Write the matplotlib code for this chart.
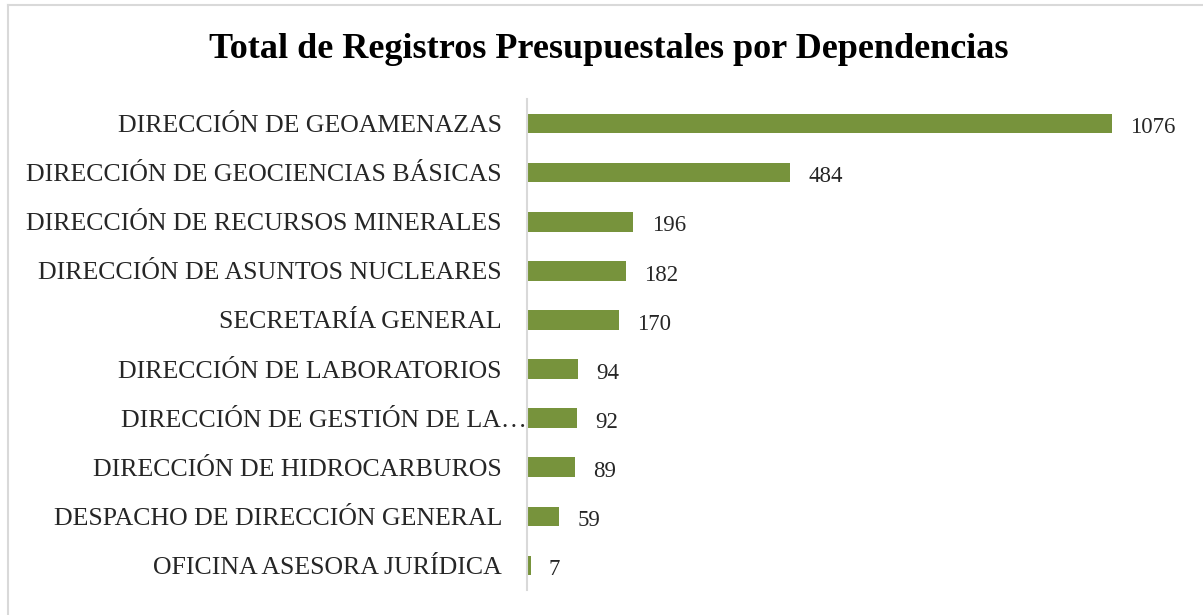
import matplotlib.pyplot as plt
from matplotlib.lines import Line2D
from matplotlib.transforms import ScaledTranslation

dependencias = [
    "DIRECCIÓN DE GEOAMENAZAS",
    "DIRECCIÓN DE GEOCIENCIAS BÁSICAS",
    "DIRECCIÓN DE RECURSOS MINERALES",
    "DIRECCIÓN DE ASUNTOS NUCLEARES",
    "SECRETARÍA GENERAL",
    "DIRECCIÓN DE LABORATORIOS",
    "DIRECCIÓN DE GESTIÓN DE LA…",
    "DIRECCIÓN DE HIDROCARBUROS",
    "DESPACHO DE DIRECCIÓN GENERAL",
    "OFICINA ASESORA JURÍDICA",
]
registros = [1076, 484, 196, 182, 170, 94, 92, 89, 59, 7]

plt.rcParams['font.family'] = ['Liberation Serif', 'DejaVu Serif']
color_barra = '#77933C'
color_texto = '#262626'

fig = plt.figure(figsize=(12.03, 6.15), dpi=100)
ax = fig.add_axes([527 / 1203, 1 - 590 / 615, 652 / 1203, 491 / 615])

pos = list(range(len(dependencias)))
ax.barh(pos, registros, height=0.4, color=color_barra)
ax.set_ylim(len(dependencias) - 0.5, -0.5)
ax.set_xlim(0, 1200)

for p, v in zip(pos, registros):
    ax.annotate(str(v), (v, p), xytext=(13, -3), textcoords='offset points',
                va='center', ha='left', fontsize=16.5, color=color_texto)

ax.set_yticks(pos)
ax.set_yticklabels(dependencias, fontsize=18.6, color=color_texto)
ax.tick_params(axis='y', length=0, pad=18)
ax.set_xticks([])
for s in ['top', 'right', 'bottom']:
    ax.spines[s].set_visible(False)
ax.spines['left'].set_color('#D9D9D9')
ax.spines['left'].set_linewidth(1.5)

# la etiqueta truncada llega hasta el eje
lbl = ax.get_yticklabels()[6]
lbl.set_transform(lbl.get_transform() + ScaledTranslation(18 / 72, 0, fig.dpi_scale_trans))

fig.suptitle("Total de Registros Presupuestales por Dependencias", x=609 / 1203,
             y=1 - 50 / 615, va='center', fontsize=26, fontweight='bold', color='black')

# borde del recuadro
fig.add_artist(Line2D([8 / 1203, 1], [1 - 5 / 615, 1 - 5 / 615], color='#D9D9D9', lw=1.5))
fig.add_artist(Line2D([8 / 1203, 8 / 1203], [0, 1 - 5 / 615], color='#D9D9D9', lw=1.5))

fig.savefig('out.png', dpi=100, facecolor='white')
